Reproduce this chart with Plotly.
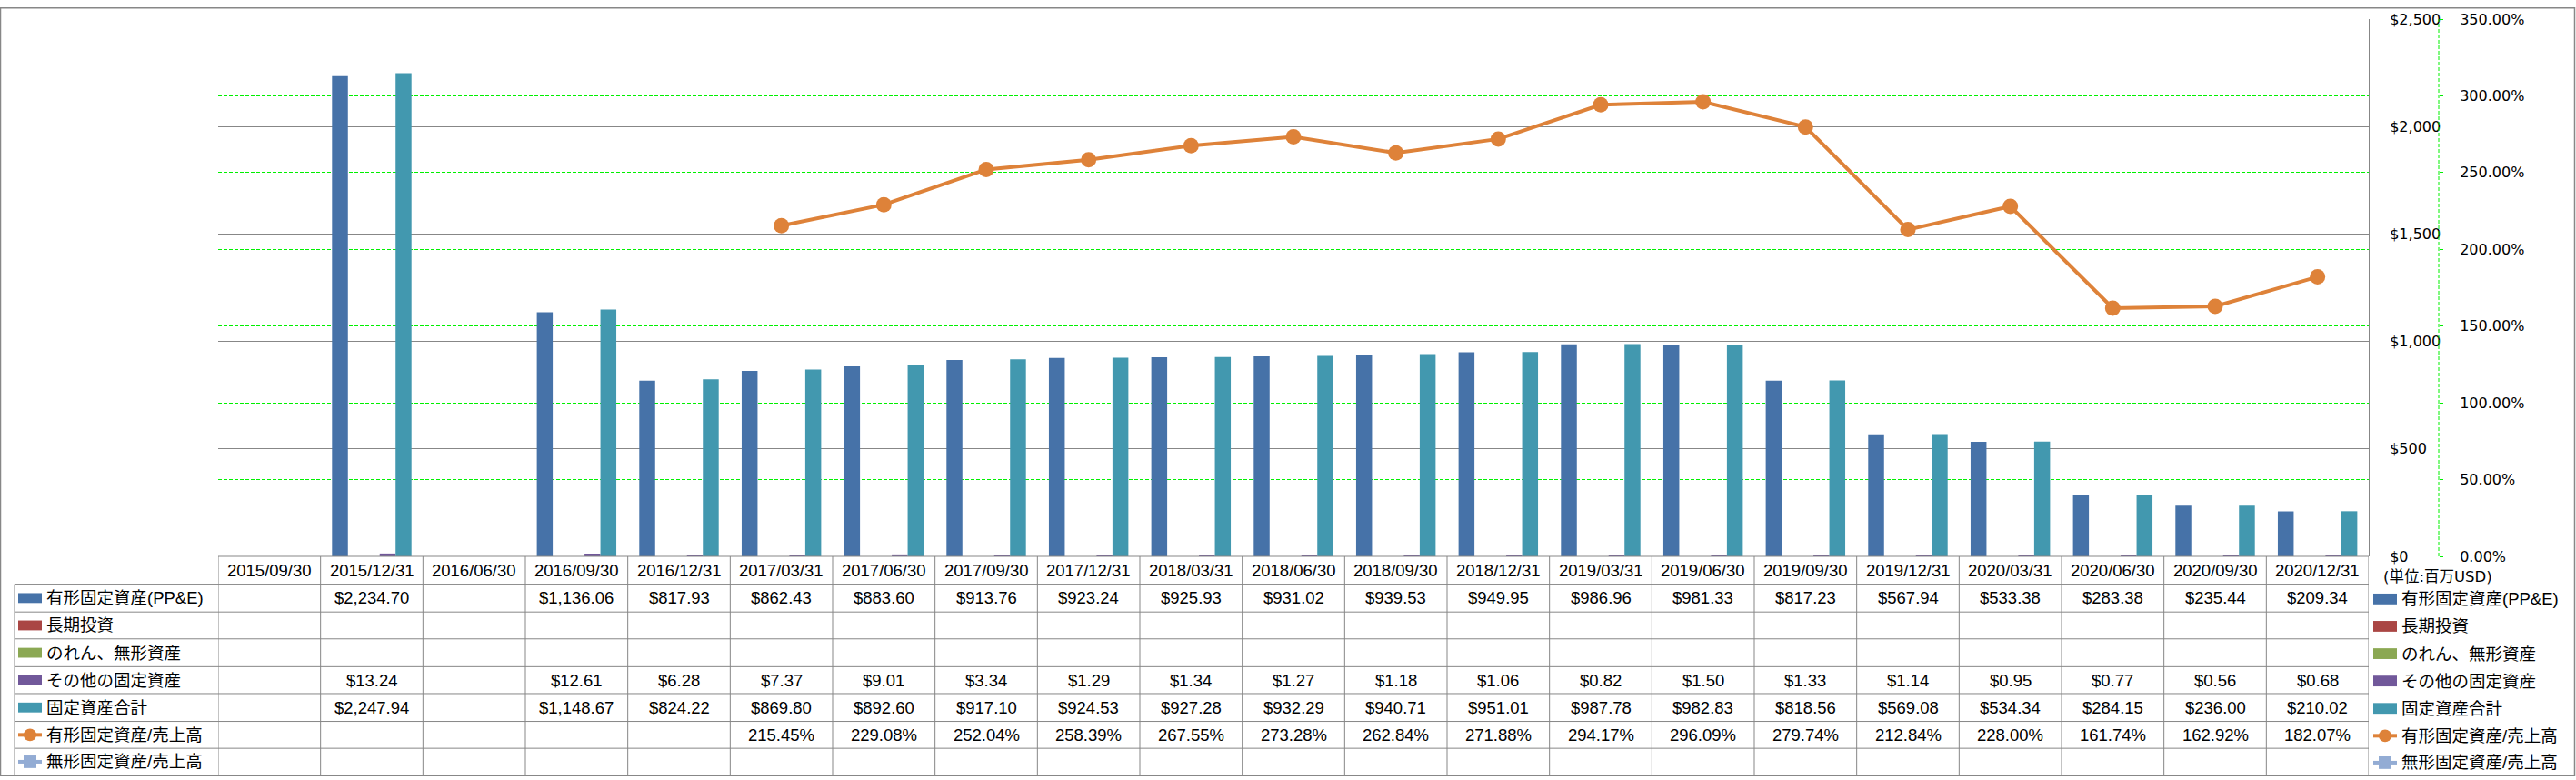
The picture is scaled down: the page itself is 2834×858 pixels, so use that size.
import plotly.graph_objects as go

# ---------------- data ----------------
categories = ["2015/09/30", "2015/12/31", "2016/06/30", "2016/09/30", "2016/12/31",
              "2017/03/31", "2017/06/30", "2017/09/30", "2017/12/31", "2018/03/31",
              "2018/06/30", "2018/09/30", "2018/12/31", "2019/03/31", "2019/06/30",
              "2019/09/30", "2019/12/31", "2020/03/31", "2020/06/30", "2020/09/30",
              "2020/12/31"]
ppe = [None, 2234.70, None, 1136.06, 817.93, 862.43, 883.60, 913.76, 923.24, 925.93,
       931.02, 939.53, 949.95, 986.96, 981.33, 817.23, 567.94, 533.38, 283.38, 235.44, 209.34]
long_term_invest = [None] * 21
goodwill_intangible = [None] * 21
other_fixed = [None, 13.24, None, 12.61, 6.28, 7.37, 9.01, 3.34, 1.29, 1.34,
               1.27, 1.18, 1.06, 0.82, 1.50, 1.33, 1.14, 0.95, 0.77, 0.56, 0.68]
total_fixed = [None, 2247.94, None, 1148.67, 824.22, 869.80, 892.60, 917.10, 924.53, 927.28,
               932.29, 940.71, 951.01, 987.78, 982.83, 818.56, 569.08, 534.34, 284.15, 236.00, 210.02]
ppe_to_sales = [None, None, None, None, None, 215.45, 229.08, 252.04, 258.39, 267.55,
                273.28, 262.84, 271.88, 294.17, 296.09, 279.74, 212.84, 228.00, 161.74, 162.92, 182.07]
intangible_to_sales = [None] * 21

names = ["有形固定資産(PP&E)", "長期投資", "のれん、無形資産", "その他の固定資産",
         "固定資産合計", "有形固定資産/売上高", "無形固定資産/売上高"]
y1_ticks = [0, 500, 1000, 1500, 2000, 2500]
y2_ticks = [0, 50, 100, 150, 200, 250, 300, 350]
unit_label = "(単位:百万USD)"

# ---------------- style ----------------
colors = ["#4672A8", "#AA4644", "#8BA853", "#71589A", "#4298AF", "#DE8239", "#93ACD4"]
GRID = "#878787"
GREEN = "#00F000"
TXT_FONT = "Liberation Sans, Noto Sans CJK JP, sans-serif"
AX_FONT = "DejaVu Sans, Noto Sans CJK JP, sans-serif"

W, H = 2834, 858
L, R_PLOT, R_AX2 = 240, 2606, 2683
T, B = 13, 612
ROW_EDGES = [612, 643, 674, 704, 735, 765, 796, 826, 856]


def px(x):
    return (x - L) / (R_AX2 - L)


def py(y):
    return (B - y) / (B - T)


fig = go.Figure()
bar_series = [ppe, long_term_invest, goodwill_intangible, other_fixed, total_fixed]
for i, s in enumerate(bar_series):
    fig.add_trace(go.Bar(x=categories, y=s, name=names[i], marker_color=colors[i],
                         marker_line_width=0, showlegend=False))
fig.add_trace(go.Scatter(x=categories, y=ppe_to_sales, name=names[5], yaxis="y2",
                         mode="lines+markers", line=dict(color=colors[5], width=4),
                         marker=dict(size=17, color=colors[5]), showlegend=False))
fig.add_trace(go.Scatter(x=categories, y=intangible_to_sales, name=names[6], yaxis="y2",
                         mode="lines+markers", line=dict(color=colors[6], width=4),
                         marker=dict(size=14, symbol="square", color=colors[6]), showlegend=False))

shapes = []
annotations = []

# secondary axis dashed line
shapes.append(dict(type="line", xref="paper", yref="paper", x0=1, x1=1, y0=0, y1=1,
                   line=dict(color=GREEN, width=1, dash="4px,2px")))
# table horizontal lines
shapes.append(dict(type="line", xref="paper", yref="paper", x0=px(L), x1=px(R_PLOT),
                   y0=py(ROW_EDGES[0]), y1=py(ROW_EDGES[0]), line=dict(color=GRID, width=1)))
for e in ROW_EDGES[1:]:
    shapes.append(dict(type="line", xref="paper", yref="paper", x0=px(16), x1=px(R_PLOT),
                       y0=py(e), y1=py(e), line=dict(color=GRID, width=1)))
# table vertical lines
for i in range(len(categories) + 1):
    shapes.append(dict(type="line", xref="x", yref="paper", x0=i - 0.5, x1=i - 0.5,
                       y0=py(ROW_EDGES[0]), y1=py(ROW_EDGES[-1]), line=dict(color=GRID, width=1)))
shapes.append(dict(type="line", xref="paper", yref="paper", x0=px(16), x1=px(16),
                   y0=py(ROW_EDGES[1]), y1=py(ROW_EDGES[-1]), line=dict(color=GRID, width=1)))
# outer border
shapes.append(dict(type="rect", xref="paper", yref="paper", x0=px(0.5), x1=px(W - 1.5),
                   y0=py(H - 1.5), y1=py(0.5), line=dict(color=GRID, width=1.5)))

# header row
hc = (ROW_EDGES[0] + ROW_EDGES[1]) / 2
for c in categories:
    annotations.append(dict(x=c, xref="x", y=py(hc), yref="paper", text=c, showarrow=False,
                            xanchor="center", yanchor="middle",
                            font=dict(family=TXT_FONT, size=18.5, color="black")))

table_rows = [
    (ppe, lambda v: f"${v:,.2f}"),
    (long_term_invest, lambda v: f"${v:,.2f}"),
    (goodwill_intangible, lambda v: f"${v:,.2f}"),
    (other_fixed, lambda v: f"${v:,.2f}"),
    (total_fixed, lambda v: f"${v:,.2f}"),
    (ppe_to_sales, lambda v: f"{v:.2f}%"),
    (intangible_to_sales, lambda v: f"{v:.2f}%"),
]


def legend_key(xl, xr, yc, idx, h):
    if idx < 5:
        shapes.append(dict(type="rect", xref="paper", yref="paper", x0=px(xl), x1=px(xr),
                           y0=py(yc + h / 2), y1=py(yc - h / 2), fillcolor=colors[idx],
                           line=dict(width=0)))
    else:
        shapes.append(dict(type="line", xref="paper", yref="paper", x0=px(xl), x1=px(xr),
                           y0=py(yc), y1=py(yc), line=dict(color=colors[idx], width=4)))
        xm = (xl + xr) / 2
        shapes.append(dict(type="circle" if idx == 5 else "rect", xref="paper", yref="paper",
                           x0=px(xm - 7), x1=px(xm + 7), y0=py(yc + 7), y1=py(yc - 7),
                           fillcolor=colors[idx], line=dict(width=0)))


for r, (vals, fmt) in enumerate(table_rows):
    yc = (ROW_EDGES[r + 1] + ROW_EDGES[r + 2]) / 2
    for c, v in zip(categories, vals):
        if v is None:
            continue
        annotations.append(dict(x=c, xref="x", y=py(yc), yref="paper", text=fmt(v),
                                showarrow=False, xanchor="center", yanchor="middle",
                                font=dict(family=TXT_FONT, size=18.5, color="black")))
    # left legend in table
    legend_key(20, 46, yc, r, 11)
    annotations.append(dict(x=px(49), xref="paper", y=py(yc), yref="paper", text=names[r],
                            showarrow=False, xanchor="left", yanchor="middle",
                            font=dict(family=TXT_FONT, size=18.5, color="black")))
    # right legend
    legend_key(2611, 2637, yc + 1, r, 12)
    annotations.append(dict(x=px(2640), xref="paper", y=py(yc + 1), yref="paper", text=names[r],
                            showarrow=False, xanchor="left", yanchor="middle",
                            font=dict(family=TXT_FONT, size=18.5, color="black")))

annotations.append(dict(x=px(2620), xref="paper", y=py(635), yref="paper", text=unit_label,
                        showarrow=False, xanchor="left", yanchor="middle",
                        font=dict(family=AX_FONT, size=16.5, color="black")))

fig.update_layout(
    width=W, height=H,
    margin=dict(l=L, r=W - R_AX2, t=T, b=H - B, pad=0),
    paper_bgcolor="white", plot_bgcolor="white",
    barmode="group", bargap=0.224, bargroupgap=0,
    showlegend=False,
    font=dict(family=TXT_FONT, color="black"),
    xaxis=dict(type="category", categoryorder="array", categoryarray=categories,
               domain=[0, (R_PLOT - L) / (R_AX2 - L)], range=[-0.5, len(categories) - 0.5],
               showticklabels=False, showgrid=False, showline=False, zeroline=False, ticks=""),
    yaxis=dict(range=[0, 2500], tickmode="array", tickvals=y1_ticks,
               ticktext=[f"${v:,d}" for v in y1_ticks],
               side="right", anchor="x", showline=True, linecolor=GRID, linewidth=1,
               showgrid=True, gridcolor=GRID, gridwidth=1, zeroline=False,
               ticks="", ticklabelstandoff=19,
               tickfont=dict(family=AX_FONT, size=16, color="black")),
    yaxis2=dict(range=[0, 350], tickmode="array", tickvals=y2_ticks,
                ticktext=[f"{v:.2f}%" for v in y2_ticks],
                overlaying="y", side="right", anchor="free", position=1,
                showline=False, showgrid=True, gridcolor=GREEN, gridwidth=1,
                griddash="4px,2px", zeroline=False,
                ticks="outside", ticklen=4, tickcolor=GREEN, ticklabelstandoff=15,
                tickfont=dict(family=AX_FONT, size=16, color="black")),
    shapes=shapes,
    annotations=annotations,
)

fig.write_html("out.html")
